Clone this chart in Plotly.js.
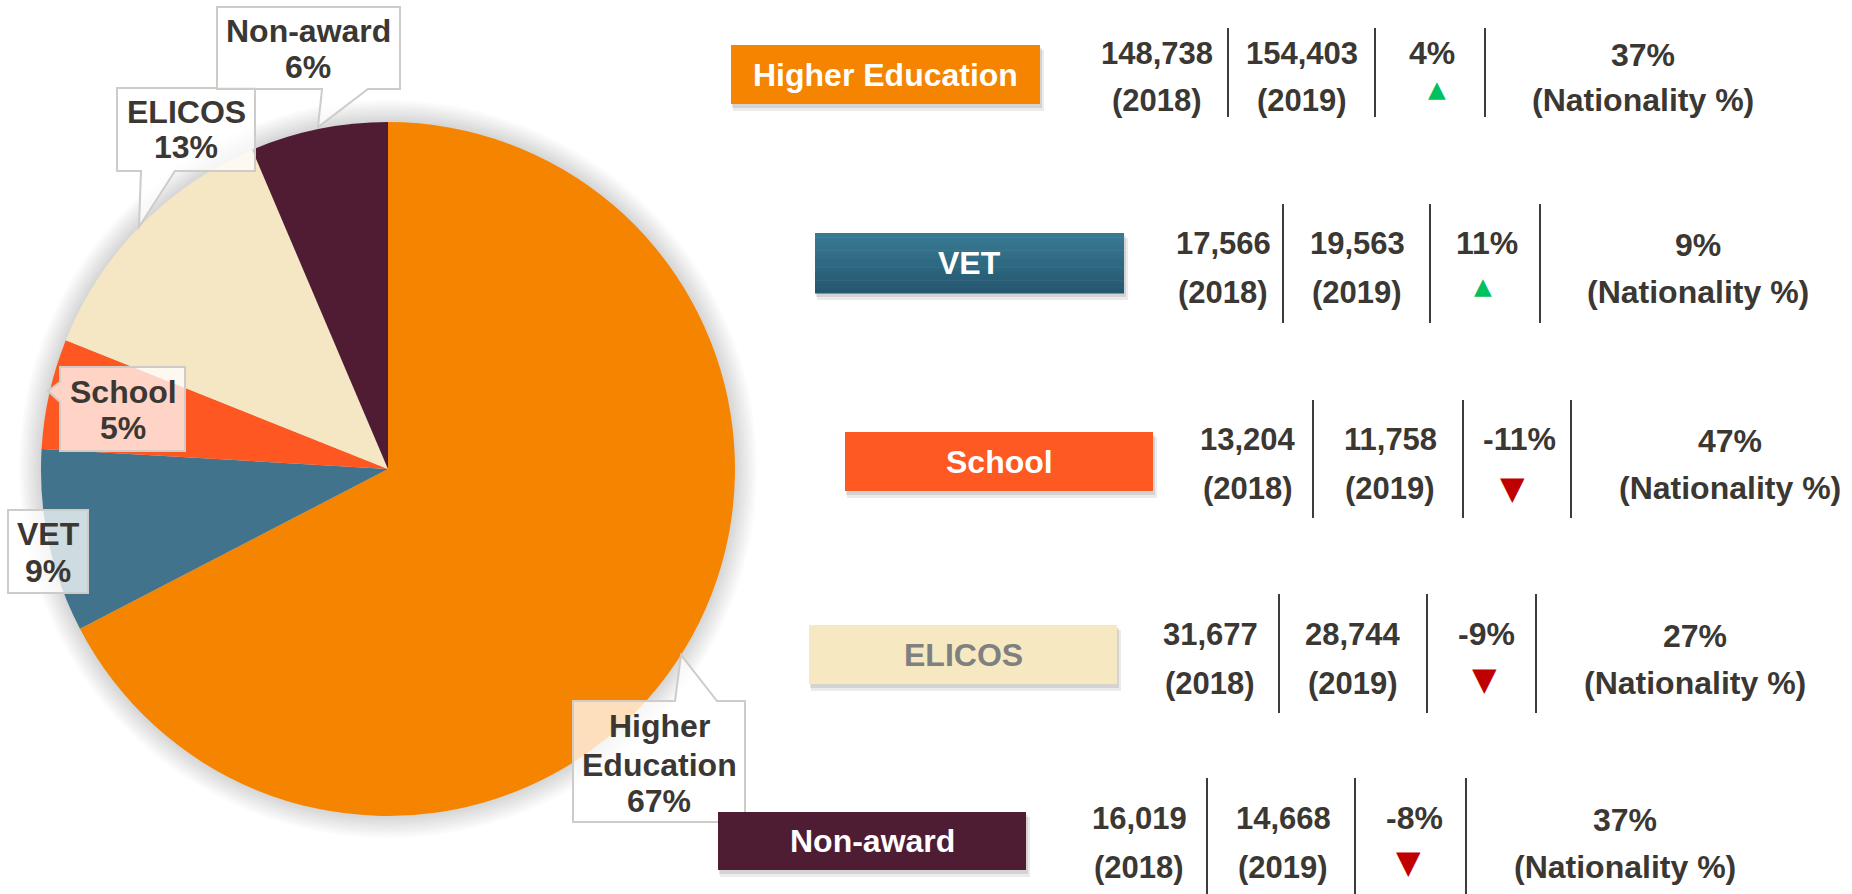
<!DOCTYPE html>
<html><head><meta charset="utf-8">
<script src="https://cdn.plot.ly/plotly-3.0.1.min.js"></script>
<style>html,body{margin:0;padding:0;background:#fff;overflow:hidden}#chart{width:1852px;height:894px}</style>
</head><body><div id="chart"></div>
<script>
// ---------------- DATA ----------------
const categories = ['Higher Education', 'VET', 'School', 'ELICOS', 'Non-award'];
const enrol2018 = [148738, 17566, 13204, 31677, 16019];
const enrol2019 = [154403, 19563, 11758, 28744, 14668];
const nationalityPct = [37, 9, 47, 27, 37];
const yearLabels = ['2018', '2019'];
const nationalityLabel = 'Nationality %';

// ---------------- STYLE / LAYOUT ----------------
const W = 1852, H = 894;
const px = x => x / W, py = y => 1 - y / H;
const FONT = 'Liberation Sans, Arial, Helvetica, sans-serif';
const TXT = '#3B3733';
const pieColors = ['#F58400', '#41738C', '#FF5722', '#F5E7C3', '#4F1C34'];
const boxFill = ['#F58400', null, '#FE5823', '#F6E9C2', '#4E1C33'];
const boxText = ['#FFFFFF', '#FFFFFF', '#FFFFFF', '#808080', '#FFFFFF'];
const pie = {cx: 388, cy: 469, r: 347};

// callout boxes (pixel geometry) per category
const callouts = [
  {pts: [[573,701],[675,701],[681,655],[717,701],[745,701],[745,822],[573,822]], x: 659, ys: [726, 765, 801]},
  {pts: [[8,510],[88,510],[88,593],[8,593]], x: 48, ys: [534, 571]},
  {pts: [[60,367],[185,367],[185,451],[60,451],[60,402],[48,391],[60,382]], x: 123, ys: [392, 428]},
  {pts: [[117,88],[255,88],[255,171],[175,171],[139,227],[141,171],[117,171]], x: 186, ys: [112, 147]},
  {pts: [[217,7],[400,7],[400,89],[368,89],[318,127],[322,89],[217,89]], x: 308, ys: [31, 67]}
];

// right-hand table rows (pixel geometry)
const rows = [
  {box:[731,1040,45,104], y1:53,  y2:100, div:[1228,1375,1485], dy:[28,117],  cx:[1157,1302,1432,1643], tri:[1437,89]},
  {box:[815,1124,233,293], y1:243, y2:292, div:[1283,1430,1540], dy:[204,323], cx:[1223,1357,1487,1698], tri:[1483,286]},
  {box:[845,1153,432,491], y1:439, y2:488, div:[1313,1463,1571], dy:[400,518], cx:[1248,1390,1519,1730], tri:[1512,488]},
  {box:[809,1117,625,684], y1:634, y2:683, div:[1279,1427,1536], dy:[594,713], cx:[1210,1353,1486,1695], tri:[1484,679]},
  {box:[718,1026,812,870], y1:818, y2:867, div:[1207,1355,1466], dy:[778,894], cx:[1139,1283,1414,1625], tri:[1408,862]}
];

// ---------------- BUILD ----------------
const shapes = [];
const annotations = [];
const fmt = n => n.toLocaleString('en-US');
const total = enrol2019.reduce((a, b) => a + b, 0);

function rect(x0, x1, y0, y1, fill, line, lw, layer) {
  return {type: 'rect', xref: 'paper', yref: 'paper', x0: px(x0), x1: px(x1), y0: py(y1), y1: py(y0),
          fillcolor: fill, line: {color: line || 'rgba(0,0,0,0)', width: lw || 0}, layer: layer || 'above'};
}
function pathOf(pts) {
  return 'M ' + pts.map(p => px(p[0]).toFixed(6) + ',' + py(p[1]).toFixed(6)).join(' L ') + ' Z';
}
function ann(x, y, text, size, color, family, extra) {
  return Object.assign({xref: 'paper', yref: 'paper', x: px(x), y: py(y), xanchor: 'center', yanchor: 'middle',
    text: text, showarrow: false, font: {family: family || FONT, size: size, color: color}}, extra || {});
}

// soft shadow around pie
for (let k = 10; k >= 1; k--) {
  const rr = pie.r + k * 2.2;
  shapes.push({type: 'circle', xref: 'paper', yref: 'paper', layer: 'below',
    x0: px(pie.cx - rr), x1: px(pie.cx + rr), y0: py(pie.cy + rr), y1: py(pie.cy - rr),
    fillcolor: 'rgba(0,0,0,0.014)', line: {width: 0}});
}

// callouts
categories.forEach((c, i) => {
  const co = callouts[i];
  shapes.push({type: 'path', xref: 'paper', yref: 'paper', layer: 'above', path: pathOf(co.pts),
    fillcolor: 'rgba(255,255,255,0.74)', line: {color: '#CFCBC7', width: 2}});
  const pct = Math.round(enrol2019[i] / total * 100) + '%';
  const lines = c.split(' ').concat([pct]);
  lines.forEach((t, j) => annotations.push(ann(co.x, co.ys[j], '<b>' + t + '</b>', 32, TXT)));
});

// table rows
categories.forEach((c, i) => {
  const r = rows[i];
  const [x0, x1, y0, y1] = r.box;
  // drop shadow
  shapes.push(rect(x0 + 2, x1 + 4, y0 + 5, y1 + 7, 'rgba(0,0,0,0.08)'));
  shapes.push(rect(x0 + 1, x1 + 2, y0 + 3, y1 + 4, 'rgba(0,0,0,0.10)'));
  if (boxFill[i]) {
    shapes.push(rect(x0, x1, y0, y1, boxFill[i]));
  } else {
    const n = 14, c0 = [56, 122, 148], c1 = [37, 88, 112];
    for (let k = 0; k < n; k++) {
      const t = k / (n - 1);
      const col = 'rgb(' + c0.map((v, j) => Math.round(v + (c1[j] - v) * t)).join(',') + ')';
      shapes.push(rect(x0, x1, y0 + (y1 - y0) * k / n, y0 + (y1 - y0) * (k + 1) / n + 0.5, col));
    }
  }
  annotations.push(ann((x0 + x1) / 2, (y0 + y1) / 2, '<b>' + c + '</b>', 32, boxText[i]));

  // dividers
  r.div.forEach(dx => shapes.push({type: 'line', xref: 'paper', yref: 'paper', layer: 'above',
    x0: px(dx), x1: px(dx), y0: py(r.dy[0]), y1: py(r.dy[1]), line: {color: '#3F3B38', width: 2}}));

  // values
  annotations.push(ann(r.cx[0], r.y1, '<b>' + fmt(enrol2018[i]) + '</b>', 31, TXT));
  annotations.push(ann(r.cx[0], r.y2, '<b>(' + yearLabels[0] + ')</b>', 31, TXT));
  annotations.push(ann(r.cx[1], r.y1, '<b>' + fmt(enrol2019[i]) + '</b>', 31, TXT));
  annotations.push(ann(r.cx[1], r.y2, '<b>(' + yearLabels[1] + ')</b>', 31, TXT));
  const ch = Math.round((enrol2019[i] - enrol2018[i]) / enrol2018[i] * 100);
  annotations.push(ann(r.cx[2], r.y1, '<b>' + ch + '%</b>', 32, TXT));
  const up = ch >= 0;
  annotations.push(ann(r.tri[0], r.tri[1], up ? '▲' : '▼', up ? 23 : 32, up ? '#00C060' : '#C00000', 'DejaVu Sans'));
  if (up) {
    const [tx, ty] = r.tri;
    shapes.push({type: 'path', xref: 'paper', yref: 'paper', layer: 'above',
      path: pathOf([[tx, ty - 1], [tx + 2, ty + 4], [tx - 2, ty + 4]]),
      fillcolor: '#A00000', line: {width: 0}});
  }
  annotations.push(ann(r.cx[3], r.y1 + 2, '<b>' + nationalityPct[i] + '%</b>', 32, TXT));
  annotations.push(ann(r.cx[3], r.y2, '<b>(' + nationalityLabel + ')</b>', 32, TXT));
});

const trace = {
  type: 'pie', labels: categories, values: enrol2019, sort: false, direction: 'clockwise', rotation: 0,
  marker: {colors: pieColors, line: {width: 0}}, textinfo: 'none', hoverinfo: 'label+percent',
  domain: {x: [px(pie.cx - pie.r), px(pie.cx + pie.r)], y: [py(pie.cy + pie.r), py(pie.cy - pie.r)]},
  showlegend: false
};

const layout = {
  width: W, height: H, margin: {l: 0, r: 0, t: 0, b: 0},
  paper_bgcolor: '#FFFFFF', plot_bgcolor: '#FFFFFF', showlegend: false,
  font: {family: FONT, color: TXT},
  shapes: shapes, annotations: annotations
};

Plotly.newPlot('chart', [trace], layout, {staticPlot: true, displayModeBar: false});
</script>
</body></html>
